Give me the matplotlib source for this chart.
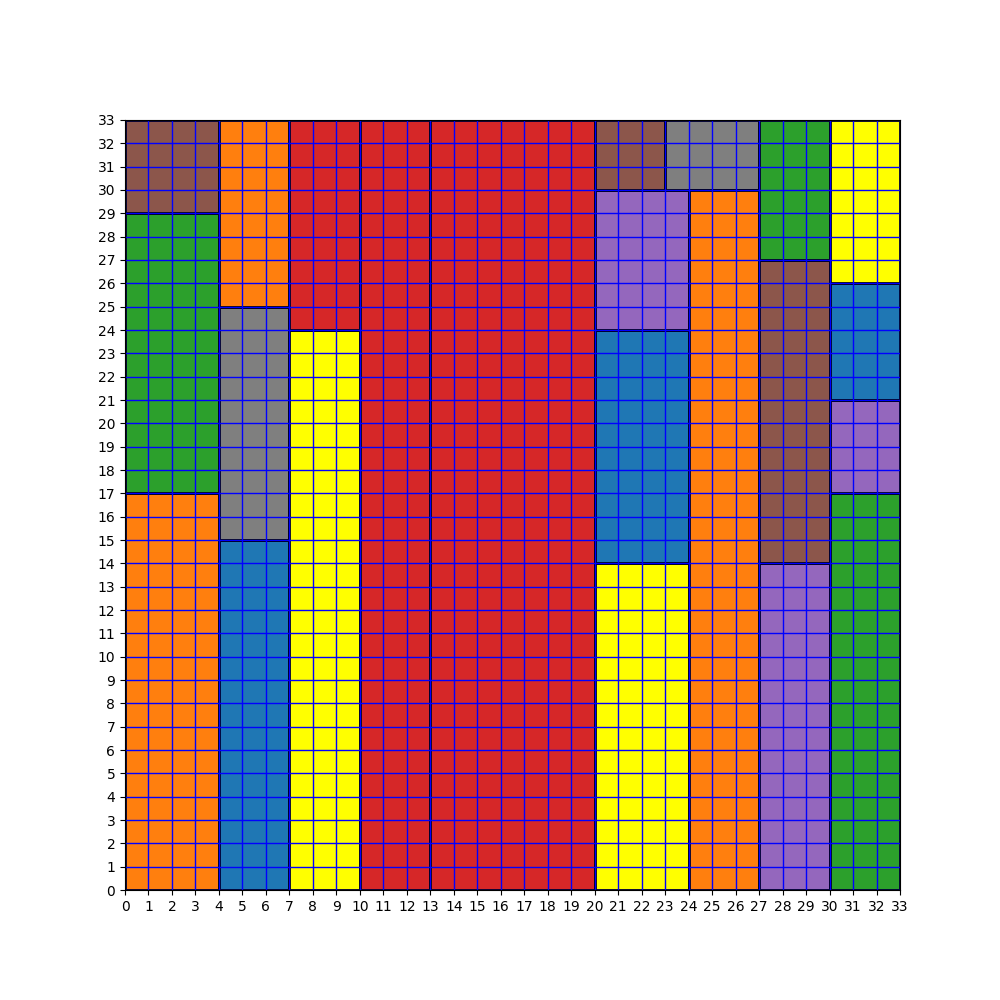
import matplotlib
matplotlib.use("Agg")
import matplotlib.pyplot as plt
from matplotlib.patches import Rectangle

x0s = [0, 0, 0, 4, 4, 4, 7, 7, 10, 13, 20, 20, 20, 20, 23, 24, 27, 27, 27, 30, 30, 30, 30]
y0s = [0, 17, 29, 0, 15, 25, 0, 24, 0, 0, 0, 14, 24, 30, 30, 0, 0, 14, 27, 0, 17, 21, 26]
widths = [4, 4, 4, 3, 3, 3, 3, 3, 3, 7, 4, 4, 4, 3, 4, 3, 3, 3, 3, 3, 3, 3, 3]
heights = [17, 12, 4, 15, 10, 8, 24, 9, 33, 33, 14, 10, 6, 3, 3, 30, 14, 13, 6, 17, 4, 5, 7]
colors = ['tab:orange', 'tab:green', 'tab:brown', 'tab:blue', 'tab:gray', 'tab:orange',
          'yellow', 'tab:red', 'tab:red', 'tab:red', 'yellow', 'tab:blue', 'tab:purple',
          'tab:brown', 'tab:gray', 'tab:orange', 'tab:purple', 'tab:brown', 'tab:green',
          'tab:green', 'tab:purple', 'tab:blue', 'yellow']
size = 33

fig, ax = plt.subplots(figsize=(10, 10), dpi=100)
for x, y, w, h, c in zip(x0s, y0s, widths, heights, colors):
    ax.add_patch(Rectangle((x, y), w, h, facecolor=c, edgecolor='black', linewidth=2))
ax.set_xlim(0, size)
ax.set_ylim(0, size)
ax.set_xticks(range(size + 1))
ax.set_yticks(range(size + 1))
ax.grid(True, color='blue', linewidth=1)
fig.savefig("out.png")
